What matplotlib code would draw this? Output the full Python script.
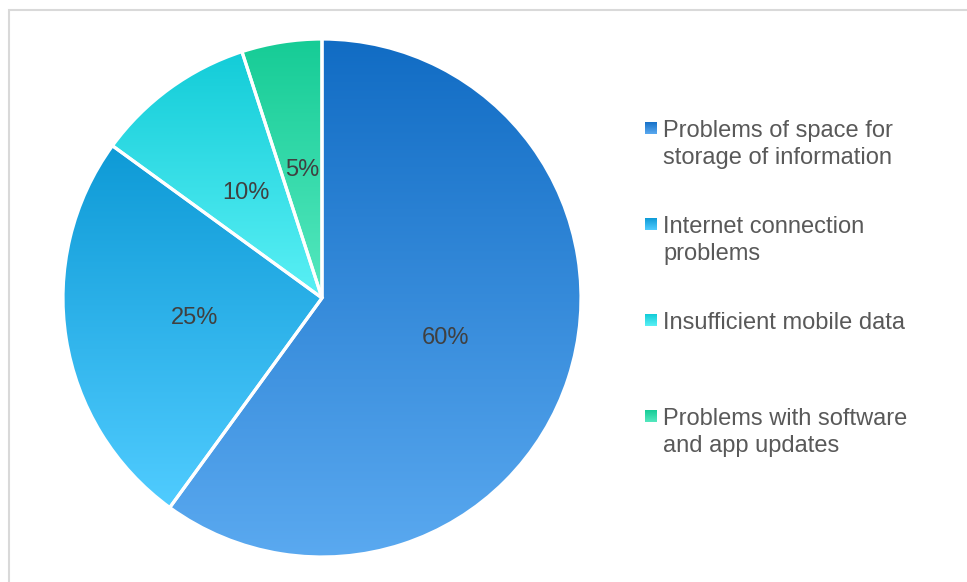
import numpy as np
import matplotlib
matplotlib.use("Agg")
import matplotlib.pyplot as plt
from matplotlib.colors import LinearSegmentedColormap
from matplotlib.patches import Rectangle

W, H = 967, 582

labels = [
    ["Problems of space for", "storage of information"],
    ["Internet connection", "problems"],
    ["Insufficient mobile data"],
    ["Problems with software", "and app updates"],
]
shares = [60, 25, 10, 5]

# top / bottom colour of each slice gradient
top_colors = ["#116cc4", "#0e9ad6", "#13ccd8", "#16cc96"]
bottom_colors = ["#5aa9f0", "#50ccff", "#5af0f5", "#55e8bf"]

plt.rcParams["font.family"] = ["Liberation Sans", "DejaVu Sans"]

fig = plt.figure(figsize=(W / 100, H / 100), dpi=100)

# pie centre and radius in pixels
cx, cy, rad = 322, 298, 259
ax = fig.add_axes([(cx - rad) / W, (H - cy - rad) / H, 2 * rad / W, 2 * rad / H])

wedges, texts, autotexts = ax.pie(
    shares, startangle=90, counterclock=False, radius=1,
    autopct="%1.0f%%", pctdistance=0.5,
    wedgeprops=dict(facecolor="none", edgecolor="white", linewidth=2.3),
    textprops=dict(fontsize=17, color="#404040"),
)

grad = np.linspace(0, 1, 256).reshape(-1, 1)
for w, c0, c1 in zip(wedges, top_colors, bottom_colors):
    th = np.radians(np.linspace(w.theta1, w.theta2, 200))
    ys = np.concatenate([np.sin(th) * w.r, [0]])
    xs = np.concatenate([np.cos(th) * w.r, [0]])
    cmap = LinearSegmentedColormap.from_list("g", [c1, c0])
    im = ax.imshow(grad, cmap=cmap, origin="lower", aspect="auto",
                   extent=[xs.min(), xs.max(), ys.min(), ys.max()], zorder=0.5)
    im.set_clip_path(w)
    w.set_zorder(1)

for t in autotexts:
    t.set_zorder(3)

ax.set_xlim(-1, 1)
ax.set_ylim(-1, 1)
ax.axis("off")

# chart border (left and top edges inside the image)
fig.add_artist(Rectangle((9 / W, -0.5), 2, 1.5 - 9.5 / H, transform=fig.transFigure,
                         facecolor="none", edgecolor="#d9d9d9", linewidth=1.5))

# legend
marker_y = [128, 224, 320, 416]
for lines, y, c0, c1 in zip(labels, marker_y, top_colors, bottom_colors):
    max_ = fig.add_axes([645 / W, (H - y - 6) / H, 12 / W, 12 / H])
    cmap = LinearSegmentedColormap.from_list("g", [c1, c0])
    max_.imshow(grad, cmap=cmap, origin="lower", aspect="auto")
    max_.axis("off")
    for i, line in enumerate(lines):
        fig.text(663 / W, (H - (y + 9 + 27 * i)) / H, line, fontsize=17,
                 color="#595959", va="baseline", ha="left")

fig.savefig("out.png", dpi=100, facecolor="white")
